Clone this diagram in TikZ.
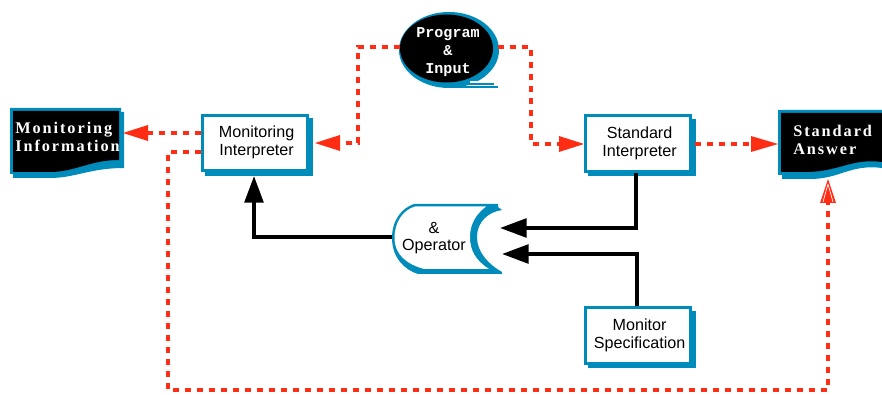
\documentclass[tikz,border=0pt]{standalone}
\usepackage{fontspec}
\setmainfont{Liberation Sans}
\newfontfamily\docfont{Liberation Serif}[LetterSpace=12,WordSpace=1]
\newfontfamily\progfont{Liberation Mono}
\usetikzlibrary{arrows.meta}
\definecolor{tealb}{RGB}{0,140,186}
\definecolor{redd}{RGB}{255,45,20}
\newcommand\boxlines[2]{\hspace*{2.4pt}\raisebox{-0.8pt}{\begin{tabular}{@{}c@{}}#1\\#2\end{tabular}}}
\tikzset{
  x=0.75pt,y=-0.75pt,
  procbox/.style={draw=tealb,line width=2.4pt,fill=white,minimum width=79pt,minimum height=41.5pt,inner sep=0pt,align=center,font=\fontsize{12.1}{13.5}\selectfont,text=black},
  doctext/.style={text=white,align=left,inner sep=0pt,font=\docfont\bfseries\fontsize{12.2}{13.5}\selectfont},
  flow/.style={draw=black,line width=2.8pt,-{Triangle[length=20pt,width=14pt]}},
  reddash/.style={draw=redd,line width=3pt,dash pattern=on 4.5pt off 4.5pt},
  redtip/.style={fill=redd,draw=none},
}
\begin{document}
\begin{tikzpicture}
\useasboundingbox (0,0) rectangle (882,395);
% Named anchors
\coordinate (infoIn) at (121,133);
\coordinate (answerIn) at (778,144);
\coordinate (answerBot) at (828,179);
% document shadows and bodies
\fill[tealb] (13,112) -- (124,112) -- (124,168) .. controls (90,168) and (75,178) .. (50,178) -- (13,178) -- cycle;
\fill[tealb] (10,108) -- (121,108) -- (121,164) .. controls (90,164) and (75,174) .. (50,174) -- (10,174) -- cycle;
\fill[black] (13,111) -- (119,111) -- (119,160) .. controls (90,160) and (75,172) .. (50,172) -- (13,172) -- cycle;
\node[doctext,anchor=north west] (info) at (15,122) {Monitoring\\Information};
\fill[tealb] (782,114) -- (882,114) -- (882,168) .. controls (850,164) and (840,179) .. (810,179) -- (782,179) -- cycle;
\fill[tealb] (778,110) -- (882,110) -- (882,164) .. controls (850,160) and (840,175) .. (805,175) -- (778,175) -- cycle;
\fill[black] (781,113) -- (882,113) -- (882,162) .. controls (850,158) and (840,172) .. (805,172) -- (781,172) -- cycle;
\node[doctext,anchor=north west] (answer) at (793,125) {Standard\\Answer};
% program ellipse
\fill[tealb] (449,50) ellipse [x radius=50, y radius=38];
\fill[tealb] (450,83) rectangle (494,85.5);
\fill[tealb] (450,86) rectangle (498,88.5);
\fill[white] (470,81.5) rectangle (496,83.2);
\fill[black] (446.5,48.5) ellipse [x radius=46.5, y radius=34];
\node[text=white,align=center,inner sep=0pt,font=\progfont\bfseries\fontsize{11.3}{13.5}\selectfont] (prog) at (448,52) {Program\\\&\\Input};
% process boxes
\fill[tealb] (205,118) rectangle (313,176);
\node[procbox] (mi) at (255,143) {\boxlines{Monitoring}{Interpreter}};
\fill[tealb] (588,119) rectangle (696,176);
\node[procbox] (si) at (638,143.5) {\boxlines{Standard}{Interpreter}};
\fill[tealb] (588,311) rectangle (696,368);
\node[procbox] (ms) at (638,335.5) {\boxlines{Monitor}{Specification}};
% operator store
\fill[tealb] (414,204) -- (498,204) -- (498,207) -- (502,210) .. controls (488,212) and (477,222) .. (477,237) .. controls (477,252) and (488,264) .. (502,272) -- (502,274) -- (418,274) .. controls (405,270) and (392,258) .. (392,238) .. controls (392,220) and (402,208) .. (414,204) -- cycle;
\fill[white] (415,206.5) -- (486,206.5) .. controls (475,215) and (470,225) .. (470,237) .. controls (470,250) and (475,260) .. (489,269) -- (424,269) .. controls (406,264) and (394.5,254) .. (394.5,238) .. controls (394.5,222) and (403,210) .. (415,206.5) -- cycle;
\fill[white] (480,237) .. controls (480,222) and (490,214) .. (504,211) -- (504,268) .. controls (490,262) and (480,252) .. (480,237) -- cycle;
\node[inner sep=0pt,align=center,font=\fontsize{12.1}{13}\selectfont] (op) at (434,238) {\&\\Operator};
\coordinate (opL) at (392,237);
\coordinate (opA) at (500,228);
\coordinate (opB) at (502,254);
% black flows
\draw[flow] (opL) -- (254,237) -- (254,176);
\draw[flow] (si.south) ++(-2,0) |- (opA);
\draw[flow] (ms.north) ++(-1,0) |- (opB);
% red dashed flows
\draw[reddash] (mi.west |- infoIn) -- (148,133);
\fill[redtip] (infoIn) ++(2,0) -- ++(25,-8) -- ++(0,16) -- cycle;
\draw[reddash] (400,47) -- (358,47) -- (358,143) -- (339,143);
\fill[redtip] (315,143) -- (340,135) -- (340,151) -- cycle;
\draw[reddash] (498,47) -- (531,47) -- (531,144) -- (560,144);
\fill[redtip] (584,144) -- (559,136) -- (559,152) -- cycle;
\draw[reddash] (695,144) -- (752,144);
\fill[redtip] (answerIn) -- (751,136) -- (751,152) -- cycle;
\draw[reddash] (201,152) -- (168,152) -- (168,390) -- (828,390) -- (828,203);
\fill[redtip] (answerBot) -- (820,203) -- (836,203) -- cycle;
\draw[white,line width=0.5pt] (828,184) -- (823,202) (828,184) -- (833,202);
\end{tikzpicture}
\end{document}
